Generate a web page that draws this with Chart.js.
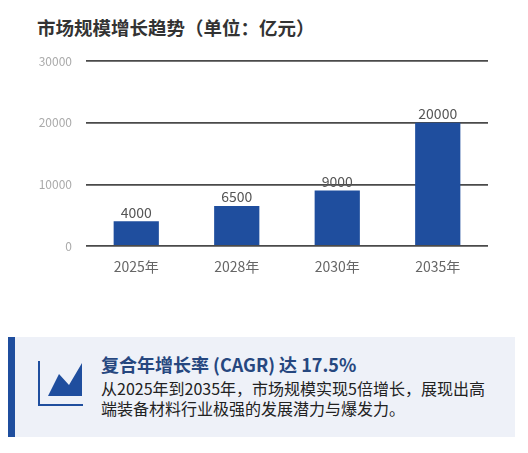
<!DOCTYPE html>
<html>
<head>
<meta charset="utf-8">
<script src="https://cdn.jsdelivr.net/npm/chart.js@4/dist/chart.umd.min.js"></script>
<style>
  html, body { margin: 0; padding: 0; background: #fff; }
  body { width: 528px; height: 453px; position: relative; overflow: hidden;
         font-family: 'Noto Sans CJK SC', 'Noto Sans', sans-serif; }
  #title { position: absolute; left: 37px; top: 14px; font-size: 18.5px; font-weight: bold; color: #333; white-space: nowrap; }
  #chartBox { position: absolute; left: 0; top: 40px; width: 528px; height: 250px; }
  #note { position: absolute; left: 8px; top: 337px; width: 507px; height: 100px;
          background: #eef1f8; border-left: 7px solid #1f4e9e; box-sizing: border-box; }
  #note svg { position: absolute; left: 23px; top: 23px; }
  #noteHead { position: absolute; left: 86px; top: 14px; font-size: 18px; font-weight: bold; color: #26477f; white-space: nowrap; }
  #noteBody { position: absolute; left: 86px; top: 41px; width: 396px; font-size: 16px; line-height: 20px; color: #222; }
</style>
</head>
<body>
<div id="title">市场规模增长趋势（单位：亿元）</div>
<div id="chartBox"><canvas id="myChart"></canvas></div>
<div id="note">
  <svg width="48" height="48" viewBox="0 0 48 48">
    <polyline points="1,1 1,45 45,45" fill="none" stroke="#1f4e9e" stroke-width="2"/>
    <polygon points="10,36 21,14 31,25 44,3 44,36" fill="#1f4e9e"/>
  </svg>
  <div id="noteHead">复合年增长率 (CAGR) 达 17.5%</div>
  <div id="noteBody">从2025年到2035年，市场规模实现5倍增长，展现出高端装备材料行业极强的发展潜力与爆发力。</div>
</div>
<script>
const years = ['2025年', '2028年', '2030年', '2035年']
const marketSize = [4000, 6500, 9000, 20000]
const yTicks = [0, 10000, 20000, 30000]

Chart.defaults.font.family = "'Noto Sans CJK SC', 'Noto Sans', sans-serif"

// value labels sitting on top of each bar
const barValues = {
  id: 'barValues',
  afterDatasetsDraw(chart) {
    const ctx = chart.ctx
    const meta = chart.getDatasetMeta(0)
    ctx.save()
    ctx.font = "14px 'Noto Sans CJK SC', 'Noto Sans', sans-serif"
    ctx.fillStyle = '#555'
    ctx.textAlign = 'center'
    ctx.textBaseline = 'middle'
    meta.data.forEach(function (bar, i) {
      ctx.fillText(String(marketSize[i]), bar.x, bar.y - 9)
    })
    ctx.restore()
  }
}

const ctx = document.getElementById('myChart').getContext('2d')
const chart = new Chart(ctx, {
  type: 'bar',
  data: {
    labels: years,
    datasets: [{
      data: marketSize,
      backgroundColor: '#1f4e9e',
      barPercentage: 0.45,
      categoryPercentage: 1
    }]
  },
  options: {
    responsive: true,
    maintainAspectRatio: false,
    animation: false,
    layout: { padding: { top: 19, right: 40, left: 0, bottom: 0 } },
    plugins: { legend: { display: false }, tooltip: { enabled: false } },
    scales: {
      x: {
        grid: { display: false, drawTicks: false },
        border: { display: false },
        ticks: { color: '#666', font: { size: 14 }, padding: 12 },
        afterFit(scale) { scale.height = 44 }
      },
      y: {
        min: 0,
        max: 30000,
        afterBuildTicks(scale) { scale.ticks = yTicks.map(v => ({ value: v })) },
        grid: { color: '#4a4a4a', lineWidth: 1.8, drawTicks: false },
        border: { display: false },
        ticks: { color: '#aaa', font: { size: 12 }, padding: 14, callback: v => String(v) },
        afterFit(scale) { scale.width = 86 }
      }
    }
  },
  plugins: [barValues]
})
</script>
</body>
</html>
